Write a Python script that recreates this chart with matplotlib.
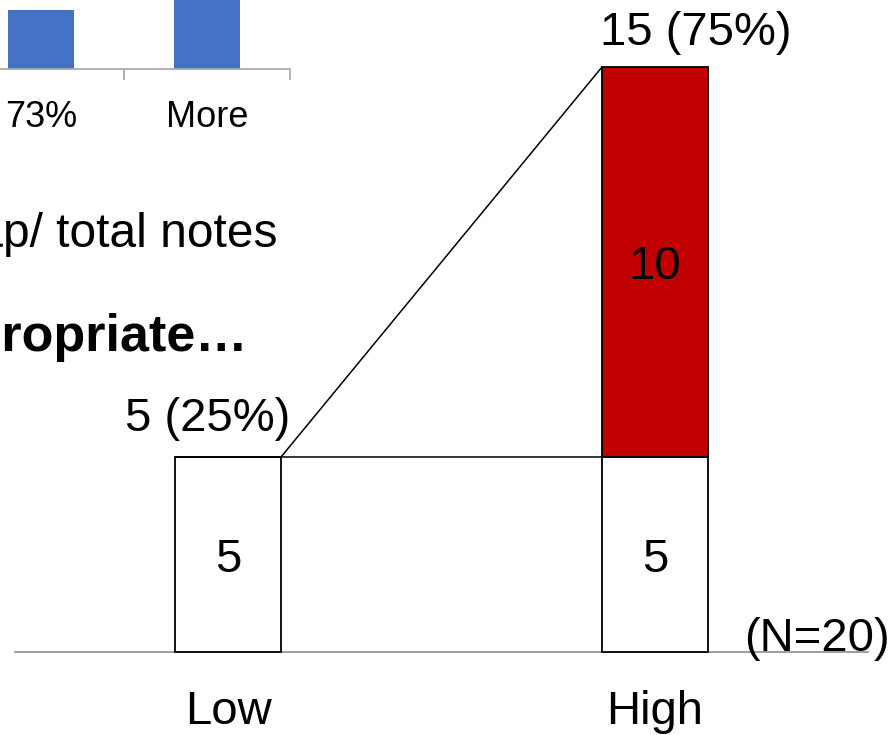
import matplotlib.pyplot as plt
from matplotlib.lines import Line2D

plt.rcParams["font.family"] = ["Liberation Sans", "DejaVu Sans"]

# main stacked comparison (counts)
groups = ["Low", "High"]
base_counts = [5, 5]
extra_counts = [0, 10]
total_n = 20
share_labels = ["5 (25%)", "15 (75%)"]

# fragment of the neighbouring histogram
hist_bins = ["73%", "More"]
hist_values = [5.9, 9.0]

W, H = 888, 735
fig = plt.figure(figsize=(W / 100, H / 100), dpi=100)

# ---- neighbouring histogram, clipped at top-left ----
hx = fig.add_axes([-42 / W, (H - 69) / H, 332 / W, 100 / H])
hx.bar(range(len(hist_bins)), hist_values, width=0.40, color="#4472c4")
hx.set_xlim(-0.5, 1.5)
hx.set_ylim(0, 10)
for s in ("left", "right", "top"):
    hx.spines[s].set_visible(False)
hx.spines["bottom"].set_color("#a6a6a6")
hx.spines["bottom"].set_linewidth(1.2)
hx.set_yticks([])
hx.set_xticks(range(len(hist_bins)))
hx.set_xticklabels(hist_bins, fontsize=26)
hx.tick_params(axis="x", which="major", length=0, pad=22)
hx.set_xticks([0.5, 1.5], minor=True)
hx.tick_params(axis="x", which="minor", length=8, color="#a6a6a6", width=1.2)
hx.patch.set_alpha(0)

# ---- slide text fragments ----
fig.text(277 / W, 1 - 234 / H, "Overlap/ total notes", fontsize=34.5,
         ha="right", va="center")
fig.text(248 / W, 1 - 337 / H, "Appropriate\u2026", fontsize=37.5,
         fontweight="bold", ha="right", va="center")

# ---- main chart ----
px_unit = 427.0  # pixels per category step
py_unit = 39.0   # pixels per count
x0 = 228.0       # pixel centre of first group
base_px = 652.0
nudge = 5 / py_unit  # drop digits so they sit visually centred

ax = fig.add_axes([0, 0, 1, 1])
ax.set_xlim(-x0 / px_unit, (W - x0) / px_unit)
ax.set_ylim(-(H - base_px) / py_unit, base_px / py_unit)
ax.axis("off")
ax.patch.set_alpha(0)

bw = 106 / px_unit
xs = list(range(len(groups)))
ax.bar(xs, base_counts, width=bw, color="white", edgecolor="black",
       linewidth=1.3, zorder=3)
ax.bar(xs, extra_counts, width=bw, bottom=base_counts, color="#c00000",
       edgecolor="black", linewidth=1.3, zorder=3)

# baseline
ax.axhline(0, xmin=15 / W, xmax=868 / W, color="#8c8c8c", linewidth=1.2,
           zorder=2)

# connector from the low bar to the high bar
low_top = base_counts[0] + extra_counts[0]
high_top = base_counts[1] + extra_counts[1]
ax.add_line(Line2D([xs[0] + bw / 2, xs[1] - bw / 2],
                   [low_top, base_counts[1]], color="black", linewidth=1.1))
ax.add_line(Line2D([xs[0] + bw / 2, xs[1] - bw / 2],
                   [low_top, high_top], color="black", linewidth=1.1))

fs = 34
ax.text(xs[0], base_counts[0] / 2 - nudge, str(base_counts[0]), fontsize=fs,
        ha="center", va="center", zorder=4)
ax.text(xs[1], base_counts[1] / 2 - nudge, str(base_counts[1]), fontsize=fs,
        ha="center", va="center", zorder=4)
ax.text(xs[1], base_counts[1] + extra_counts[1] / 2 - nudge,
        str(extra_counts[1]), fontsize=fs, ha="center", va="center", zorder=4)

ax.text(xs[0] + 62 / px_unit, low_top + 0.98, share_labels[0], fontsize=fs,
        ha="right", va="center")
ax.text(xs[1] - 55 / px_unit, high_top + 0.87, share_labels[1], fontsize=fs,
        ha="left", va="center")

for x, g in zip(xs, groups):
    ax.text(x, -60 / py_unit, g, fontsize=fs, ha="center", va="center")

ax.text(xs[1] + 89 / px_unit, 13 / py_unit, f"(N={total_n})", fontsize=fs,
        ha="left", va="center")

fig.savefig("out.png", dpi=100)
